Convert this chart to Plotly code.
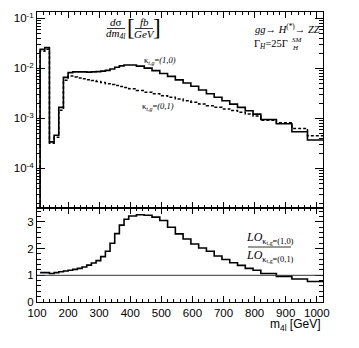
import plotly.graph_objects as go

# bin edges in m4l [GeV]: 15 GeV up to 395, 25 GeV up to 820, 50 GeV above
edges = [110, 125, 140, 155, 170, 185, 200, 215, 230, 245, 260, 275, 290, 305,
         320, 335, 350, 365, 380, 395, 420, 445, 470, 495, 520, 545, 570, 595,
         620, 645, 670, 695, 720, 745, 770, 795, 820, 870, 920, 970, 1020]

# dsigma/dm4l [fb/GeV], kappa_t,g = (1,0)
xsec_k10 = [2.4e-2, 2.6e-2, 3.4e-4, 4.6e-4, 1.66e-3, 6.6e-3, 8.2e-3, 8.5e-3,
            8.5e-3, 8.5e-3, 8.4e-3, 8.5e-3, 8.6e-3, 8.8e-3, 9.1e-3, 9.7e-3,
            1.05e-2, 1.12e-2, 1.17e-2, 1.17e-2, 1.11e-2, 1.01e-2, 9.0e-3,
            7.9e-3, 6.9e-3, 5.9e-3, 5.1e-3, 4.4e-3, 3.7e-3, 3.1e-3, 2.65e-3,
            2.25e-3, 1.93e-3, 1.66e-3, 1.42e-3, 1.22e-3, 9.5e-4, 7.8e-4,
            5.4e-4, 3.7e-4]

# dsigma/dm4l [fb/GeV], kappa_t,g = (0,1)
xsec_k01 = [2.2e-2, 2.4e-2, 3.2e-4, 4.2e-4, 1.46e-3, 5.8e-3, 7.0e-3, 6.7e-3,
            6.45e-3, 6.2e-3, 5.95e-3, 5.7e-3, 5.45e-3, 5.2e-3, 4.95e-3,
            4.75e-3, 4.55e-3, 4.35e-3, 4.15e-3, 3.9e-3, 3.6e-3, 3.35e-3,
            3.1e-3, 2.85e-3, 2.65e-3, 2.45e-3, 2.25e-3, 2.1e-3, 1.95e-3,
            1.8e-3, 1.67e-3, 1.55e-3, 1.44e-3, 1.33e-3, 1.23e-3, 1.12e-3,
            9.2e-4, 8.2e-4, 6.3e-4, 4.5e-4]

# LO(1,0) / LO(0,1)
ratio_lo = [1.10, 1.10, 1.07, 1.10, 1.13, 1.16, 1.19, 1.22, 1.26, 1.31, 1.38,
            1.46, 1.55, 1.70, 1.90, 2.20, 2.56, 2.88, 3.10, 3.22, 3.27, 3.25,
            3.18, 3.05, 2.80, 2.55, 2.36, 2.17, 2.02, 1.90, 1.72, 1.59, 1.47,
            1.37, 1.26, 1.19, 1.07, 0.96, 0.86, 0.77]

x_ticks = [100, 200, 300, 400, 500, 600, 700, 800, 900, 1000]
y_ticks = [1e-4, 1e-3, 1e-2, 1e-1]
y_ticktext = ["10<sup>-4</sup>", "10<sup>-3</sup>", "10<sup>-2</sup>", "10<sup>-1</sup>"]
r_ticks = [0, 1, 2, 3]

W, H = 359, 348
L, R, T, B = 37, 323, 12, 302
SPLIT = 208
LOGRANGE = [-4.79, -0.874]


def px(x):
    return (x - L) / (R - L)


def py(y):
    return (B - y) / (B - T)


def step(vals, floor=None):
    xs = list(edges)
    ys = list(vals) + [vals[-1]]
    if floor is not None:
        xs = [edges[0]] + xs
        ys = [floor] + ys
    return xs, ys


floor = 10 ** (LOGRANGE[0] - 1)
fig = go.Figure()

x1, y1 = step(xsec_k01, floor)
fig.add_trace(go.Scatter(x=x1, y=y1, mode="lines", line_shape="hv",
                         line=dict(color="black", width=1.5, dash="3px,2px"),
                         xaxis="x", yaxis="y"))
x0, y0 = step(xsec_k10, floor)
fig.add_trace(go.Scatter(x=x0, y=y0, mode="lines", line_shape="hv",
                         line=dict(color="black", width=1.6),
                         xaxis="x", yaxis="y"))
xr, yr = step(ratio_lo)
fig.add_trace(go.Scatter(x=xr, y=yr, mode="lines", line_shape="hv",
                         line=dict(color="black", width=1.6),
                         xaxis="x2", yaxis="y2"))

minor_log = [m * 10 ** e for e in range(-5, 0) for m in range(2, 10)]
tickfont = dict(family="Liberation Sans, Arial", size=11.5, color="black")
axis_common = dict(showline=True, linecolor="black", linewidth=1, mirror="allticks",
                   ticks="inside", tickcolor="black", showgrid=False, zeroline=False,
                   automargin=False)
split_frac = py(SPLIT)

fig.update_layout(
    template="none",
    width=W, height=H,
    margin=dict(l=L, r=W - R, t=T, b=H - B, pad=0),
    paper_bgcolor="white", plot_bgcolor="white",
    showlegend=False,
    font=dict(family="Liberation Sans, Arial", color="black"),
    xaxis=dict(domain=[0, 1], anchor="y", range=[100, 1020], tickvals=x_ticks,
               showticklabels=False, ticklen=6,
               minor=dict(dtick=20, tick0=100, ticks="inside", ticklen=3, tickcolor="black"),
               **axis_common),
    yaxis=dict(domain=[split_frac, 1], anchor="x", type="log", range=LOGRANGE,
               tickvals=y_ticks, ticktext=y_ticktext, tickfont=tickfont, ticklen=8,
               minor=dict(tickvals=minor_log, ticks="inside", ticklen=4, tickcolor="black"),
               **axis_common),
    xaxis2=dict(domain=[0, 1], anchor="y2", range=[100, 1020], tickvals=x_ticks,
                tickfont=tickfont, ticklen=6, matches="x",
                minor=dict(dtick=20, tick0=100, ticks="inside", ticklen=3, tickcolor="black"),
                **axis_common),
    yaxis2=dict(domain=[0, split_frac], anchor="x2", range=[0, 3.52],
                tickvals=r_ticks, tickfont=tickfont, ticklen=8,
                minor=dict(dtick=0.2, ticks="inside", ticklen=4, tickcolor="black"),
                **axis_common),
)

# ratio = 1 reference line
fig.add_shape(type="line", xref="x2 domain", yref="y2", x0=0, x1=1, y0=1, y1=1,
              line=dict(color="#333", width=1))

serif = "Liberation Serif, Times New Roman"
sans = "Liberation Sans, Arial"


def note(text, x, y, size=11, family=serif, xanchor="center", yanchor="middle"):
    fig.add_annotation(text=text, x=px(x), y=py(y), xref="paper", yref="paper",
                       showarrow=False, xanchor=xanchor, yanchor=yanchor,
                       font=dict(family=family, size=size, color="black"))


def bar(xa, xb, y, width=0.8):
    fig.add_shape(type="line", xref="paper", yref="paper", x0=px(xa), x1=px(xb),
                  y0=py(y), y1=py(y), line=dict(color="black", width=width))


# d sigma / d m4l [fb / GeV]
note("<i>d</i>σ", 116, 22, 11)
bar(107, 125, 28.5)
note("<i>dm</i><sub><i>4l</i></sub>", 115, 34, 11)
note("[", 131, 27, 23)
note("]", 157, 27, 23)
note("<i>fb</i>", 144, 22, 11)
bar(135, 153, 28.5)
note("<i>GeV</i>", 144, 34, 11)

# process
note("<i>gg</i>→ <i>H</i><sup>(*)</sup>→ <i>ZZ</i>", 322, 28, 10.5, xanchor="right")
note("Γ<sub><i>H</i></sub>=25Γ", 252, 44, 10.5, xanchor="left")
note("<i>SM</i>", 290, 40, 7, xanchor="left")
note("<i>H</i>", 290, 48, 7, xanchor="left")

# curve labels
note("κ<sub><i>t,g</i></sub>=<i>(1,0)</i>", 160, 60, 8.5)
note("κ<sub><i>t,g</i></sub>=<i>(0,1)</i>", 158, 106, 8.5)

# ratio label
note("<i>LO</i><sub>κ<sub>t,g</sub>=(1,0)</sub>", 270, 238, 12)
bar(248, 291, 247)
note("<i>LO</i><sub>κ<sub>t,g</sub>=(0,1)</sub>", 270, 256, 12)

# x axis title
note("m<sub>4l</sub> [GeV]", 323, 325, 12, family=sans, xanchor="right")

# the page's default body margin would shift the whole figure
fig.write_html("out.html", config={"displayModeBar": False},
               post_script="document.body.style.margin='0';")
